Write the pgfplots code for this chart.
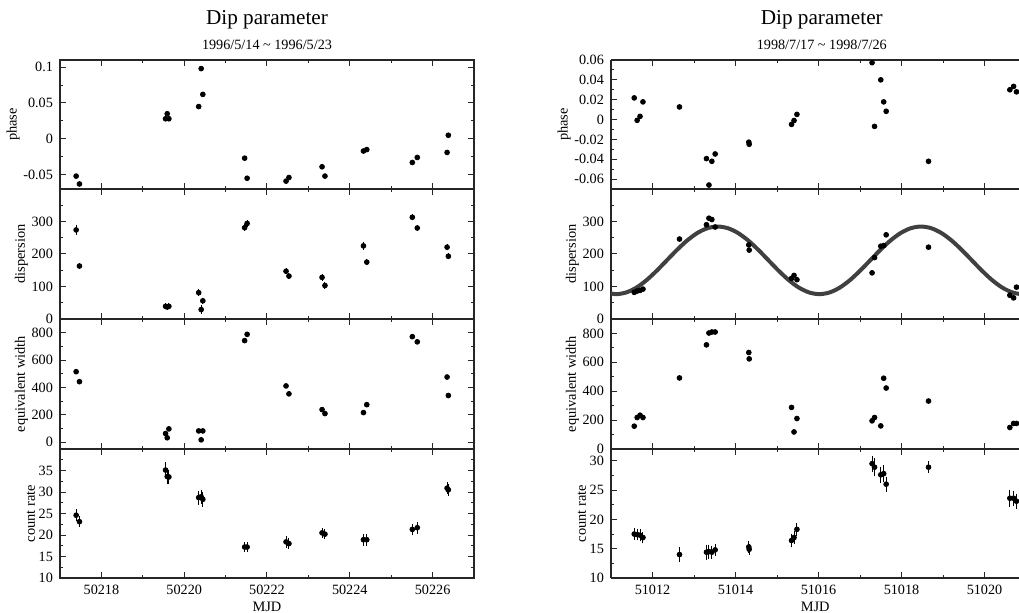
\documentclass[border=0pt]{standalone}
\usepackage{fontspec}
\setmainfont{Liberation Serif}
\usepackage{pgfplots}
\pgfplotsset{compat=1.18}
\pgfplotsset{
  panel/.style={
    scale only axis,
    tick align=inside,
    major tick length=3pt, minor tick length=1.6pt,
    axis line style={line width=0.6pt, black!85},
    every tick/.append style={line width=0.5pt, black!85},
    tick label style={font=\fontsize{7.1}{8}\selectfont, black},
    label style={font=\fontsize{7.2}{8.5}\selectfont},
    ylabel shift=-5pt,
    xlabel style={yshift=3pt},
    /pgf/number format/assume math mode=true,
    /pgf/number format/1000 sep={},
    scaled ticks=false,
    yticklabel style={/pgf/number format/fixed},
    anchor=south west,
  },
  leftcol/.style={panel, width=207pt, xmin=50217, xmax=50227,
    xtick={50218,50220,50222,50224,50226}, minor xtick={50217,50219,50221,50223,50225,50227}},
  rightcol/.style={panel, width=204.2pt, xmin=51011, xmax=51020.84, axis y line*=left,
    xtick={51012,51014,51016,51018,51020}, minor xtick={51011,51013,51015,51017,51019}},
  dots/.style={only marks, mark=*, mark size=1.2pt, black, mark options={fill=black}},
  errdots/.style={dots, error bars/.cd, y dir=both, y explicit,
    error bar style={line width=0.5pt,black}, error mark options={mark size=1.1pt, line width=0.5pt}},
}
\begin{document}
\begin{tikzpicture}
\useasboundingbox (0,0) rectangle (509.5pt,306pt);
% ================= LEFT COLUMN =================
\begin{axis}[leftcol, name=L1, at={(30pt,211.5pt)}, height=64.5pt,
  ymin=-0.07, ymax=0.11, ytick={-0.05,0,0.05,0.1}, minor ytick={-0.025,0.025,0.075},
  xticklabels={}, ylabel={phase}]
\addplot[dots] table {
50217.39 -0.052
50217.47 -0.063
50219.55 0.028
50219.59 0.035
50219.63 0.028
50220.35 0.045
50220.41 0.098
50220.45 0.062
50221.46 -0.027
50221.52 -0.055
50222.46 -0.059
50222.53 -0.054
50223.33 -0.039
50223.40 -0.052
50224.33 -0.017
50224.41 -0.015
50225.51 -0.033
50225.63 -0.026
50226.35 -0.019
50226.38 0.005
};
\end{axis}
\node[anchor=base, yshift=17.5pt, font=\fontsize{10.6}{12}\selectfont] at (L1.north) {Dip parameter};
\node[anchor=base, yshift=5pt, font=\fontsize{7.1}{8}\selectfont] at (L1.north) {1996/5/14 \textasciitilde{} 1996/5/23};

\begin{axis}[leftcol, at={(30pt,146.5pt)}, height=65pt,
  ymin=0, ymax=400, ytick={0,100,200,300}, minor ytick={50,150,250,350},
  xticklabels={}, ylabel={dispersion}]
\addplot[errdots] table[x index=0, y index=1, y error index=2] {
50217.39 274 8
50217.47 163 3
50219.55 39 3
50219.59 37 3
50219.63 39 3
50220.35 81 5
50220.41 29 6
50220.45 56 3
50221.46 281 3
50221.52 294 4
50222.46 147 3
50222.53 132 3
50223.33 128 4
50223.40 103 4
50224.33 225 6
50224.41 175 3
50225.51 313 3
50225.63 280 3
50226.35 221 3
50226.38 193 3
};
\end{axis}

\begin{axis}[leftcol, at={(30pt,81.5pt)}, height=65pt,
  ymin=-50, ymax=900, ytick={0,200,400,600,800}, minor ytick={100,300,500,700},
  xticklabels={}, ylabel={equivalent width}]
\addplot[dots] table {
50217.39 515
50217.47 442
50219.55 63
50219.59 32
50219.63 97
50220.35 82
50220.41 17
50220.45 82
50221.46 742
50221.52 788
50222.46 411
50222.53 353
50223.33 238
50223.40 209
50224.33 216
50224.41 274
50225.51 771
50225.63 733
50226.35 476
50226.38 341
};
\end{axis}

\begin{axis}[leftcol, at={(30pt,17pt)}, height=64.5pt,
  ymin=10, ymax=40, ytick={10,15,20,25,30,35}, minor ytick={12.5,17.5,22.5,27.5,32.5,37.5},
  ylabel={count rate}, xlabel={MJD}]
\addplot[errdots] table[x index=0, y index=1, y error index=2] {
50217.39 24.6 0.9
50217.47 23.1 0.8
50219.55 35.1 1.3
50219.59 33.6 1.3
50219.63 33.5 1.2
50220.35 28.7 1.1
50220.41 28.9 1.1
50220.45 28.3 1.2
50221.46 17.2 0.6
50221.52 17.2 0.6
50222.46 18.4 0.9
50222.53 18.0 0.8
50223.33 20.5 0.6
50223.40 20.2 0.6
50224.33 18.9 0.9
50224.41 18.9 0.9
50225.51 21.3 0.8
50225.63 21.7 0.9
50226.35 30.9 0.9
50226.38 30.5 0.9
};
\end{axis}

% ================= RIGHT COLUMN =================
\begin{axis}[rightcol, name=R1, at={(305.5pt,211.5pt)}, height=64.5pt,
  ymin=-0.07, ymax=0.06, ytick={-0.06,-0.04,-0.02,0,0.02,0.04,0.06},
  minor ytick={-0.07,-0.05,-0.03,-0.01,0.01,0.03,0.05},
  xticklabels={}, ylabel={phase}]
\addplot[dots] table {
51011.56 0.0218
51011.63 -0.0008
51011.70 0.0032
51011.77 0.0178
51012.65 0.0127
51013.30 -0.0394
51013.36 -0.0660
51013.43 -0.0421
51013.51 -0.0347
51014.32 -0.0228
51014.33 -0.0249
51015.35 -0.0049
51015.41 -0.0010
51015.48 0.0052
51017.29 0.0573
51017.35 -0.0069
51017.50 0.0400
51017.57 0.0178
51017.63 0.0083
51018.65 -0.0421
51020.61 0.0300
51020.70 0.0334
51020.77 0.0279
};
\end{axis}
\node[anchor=base, xshift=3.3pt, yshift=17.5pt, font=\fontsize{10.6}{12}\selectfont] at (R1.north) {Dip parameter};
\node[anchor=base, xshift=3.3pt, yshift=5pt, font=\fontsize{7.1}{8}\selectfont] at (R1.north) {1998/7/17 \textasciitilde{} 1998/7/26};

\begin{axis}[rightcol, at={(305.5pt,146.5pt)}, height=65pt,
  ymin=0, ymax=400, ytick={0,100,200,300}, minor ytick={50,150,250,350},
  xticklabels={}, ylabel={dispersion}]
\addplot[dots] table {
51011.56 82
51011.63 86
51011.70 88
51011.77 92
51012.65 246
51013.30 290
51013.36 310
51013.43 306
51013.51 283
51014.32 228
51014.33 212
51015.35 125
51015.41 134
51015.48 121
51017.29 142
51017.35 189
51017.50 224
51017.57 226
51017.63 259
51018.65 221
51020.61 73
51020.70 65
51020.77 98
};
\addplot[smooth, line width=2pt, black!75] table {
51010.875 81.6
51011.120 76.5
51011.365 81.6
51011.610 96.4
51011.855 119.4
51012.100 148.4
51012.345 180.5
51012.590 212.6
51012.835 241.6
51013.080 264.6
51013.325 279.4
51013.570 284.5
51013.815 279.4
51014.060 264.6
51014.305 241.6
51014.550 212.6
51014.795 180.5
51015.040 148.4
51015.285 119.4
51015.530 96.4
51015.775 81.6
51016.020 76.5
51016.265 81.6
51016.510 96.4
51016.755 119.4
51017.000 148.4
51017.245 180.5
51017.490 212.6
51017.735 241.6
51017.980 264.6
51018.225 279.4
51018.470 284.5
51018.715 279.4
51018.960 264.6
51019.205 241.6
51019.450 212.6
51019.695 180.5
51019.940 148.4
51020.185 119.4
51020.430 96.4
51020.675 81.6
51020.920 76.5
51021.165 81.6
};
\end{axis}

\begin{axis}[rightcol, at={(305.5pt,81.5pt)}, height=65pt,
  ymin=0, ymax=900, ytick={0,200,400,600,800}, minor ytick={100,300,500,700},
  xticklabels={}, ylabel={equivalent width}]
\addplot[dots] table {
51011.56 158
51011.63 218
51011.70 234
51011.77 218
51012.65 492
51013.30 721
51013.36 803
51013.43 810
51013.51 810
51014.32 668
51014.33 624
51015.35 288
51015.41 118
51015.48 211
51017.29 195
51017.35 218
51017.50 160
51017.57 490
51017.63 422
51018.65 332
51020.61 149
51020.70 177
51020.77 177
};
\end{axis}

\begin{axis}[rightcol, at={(305.5pt,17pt)}, height=64.5pt,
  ymin=10, ymax=32, ytick={10,15,20,25,30}, minor ytick={12.5,17.5,22.5,27.5},
  ylabel={count rate}, xlabel={MJD}]
\addplot[errdots] table[x index=0, y index=1, y error index=2] {
51011.56 17.5 0.6
51011.63 17.4 0.6
51011.70 17.3 0.6
51011.77 16.9 0.6
51012.65 14.0 0.9
51013.30 14.4 0.9
51013.36 14.5 0.8
51013.43 14.4 0.7
51013.51 14.8 0.7
51014.32 15.3 0.7
51014.33 14.9 0.6
51015.35 16.4 0.8
51015.41 16.9 0.8
51015.48 18.3 0.7
51017.29 29.5 1.0
51017.35 28.9 1.2
51017.50 27.6 1.0
51017.57 27.8 1.1
51017.63 26.0 0.9
51018.65 28.9 0.6
51020.61 23.6 1.1
51020.70 23.6 0.9
51020.77 23.1 0.9
};
\end{axis}
\end{tikzpicture}
\end{document}
